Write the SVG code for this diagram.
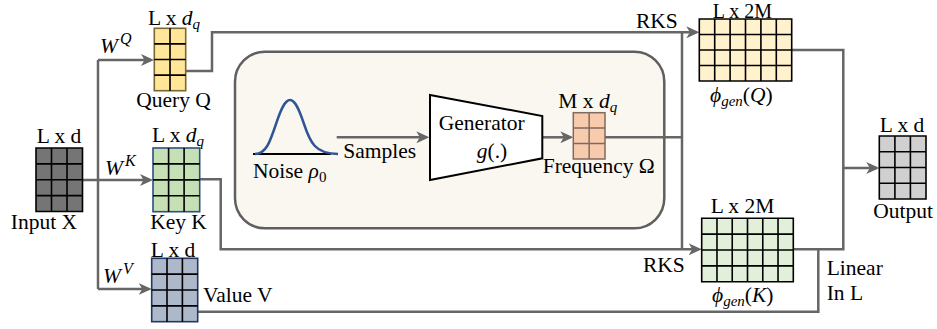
<svg xmlns="http://www.w3.org/2000/svg" width="937" height="329" viewBox="0 0 937 329">
<defs>
<marker id="ah" markerUnits="userSpaceOnUse" markerWidth="14" markerHeight="12" refX="10" refY="6" orient="auto">
<path d="M0,0 L13,6 L0,12 L3.5,6 Z" fill="#666"/>
</marker>
</defs>
<style>
text{font-family:"Liberation Serif","Times New Roman",serif;font-size:21.5px;fill:#000}
.m{text-anchor:middle}
.it{font-style:italic}
.sub{font-size:15px}
.sup{font-size:16px}
.grid{fill:none;stroke:#000;stroke-width:1.6}
.con{fill:none;stroke:#666;stroke-width:2.5}
.arr{marker-end:url(#ah)}
</style>
<rect width="937" height="329" fill="#fff"/>

<g id="box">
<rect x="235" y="51.7" width="429.3" height="176.6" rx="30" fill="#FAF6F0" stroke="#5f5f5f" stroke-width="2.5"/>
</g>

<g id="connectors">
<path class="con" d="M98,60 V289"/>
<path class="con arr" d="M98,60 H151"/>
<path class="con arr" d="M82,180 H150"/>
<path class="con arr" d="M98,289 H148.7"/>
<path class="con arr" d="M185.7,71 H212 V32.3 H696.3"/>
<path class="con" d="M605,137.3 H682"/>
<path class="con" d="M682,32.3 V249.3"/>
<path class="con arr" d="M199.7,179.3 H220.7 V249.3 H698.7"/>
<path class="con arr" d="M791.7,50 H843.3 V168 H876.3"/>
<path class="con" d="M793.3,249.3 H843.3 V168"/>
<path class="con" d="M197.7,311.7 H818.3 V249.3"/>
<path class="con arr" d="M336.7,137.3 H426.3"/>
<path class="con arr" d="M542.3,137.3 H570.3"/>
</g>

<g id="input">
<rect x="36" y="148" width="46.5" height="63.5" fill="#757575"/>
<path class="grid" d="M36,148 h46.5 v63.5 h-46.5 Z M51.5,148 V211.5 M67,148 V211.5 M36,163.9 H82.5 M36,179.75 H82.5 M36,195.6 H82.5"/>
<text x="59" y="143" class="m">L x d</text>
<text x="44" y="229" class="m">Input X</text>
</g>

<g id="query">
<rect x="154.3" y="28.3" width="31.4" height="62.4" fill="#FFE699" stroke="#7a6830" stroke-width="1.6"/>
<path class="grid" d="M170,28.3 V90.7 M154.3,43.9 H185.7 M154.3,59.5 H185.7 M154.3,75.1 H185.7"/>
<text x="148" y="25">L x <tspan class="it">d</tspan><tspan class="it sub" dy="4">q</tspan></text>
<text x="173.5" y="107" class="m">Query Q</text>
<text x="100" y="53" class="it">W<tspan class="sup" dx="2" dy="-9">Q</tspan></text>
</g>

<g id="key">
<rect x="153" y="148" width="46.7" height="63.7" fill="#C5E0B4" stroke="#2F4F7F" stroke-width="1.6"/>
<path class="grid" d="M168.6,148 V211.7 M184.1,148 V211.7 M153,163.9 H199.7 M153,179.85 H199.7 M153,195.8 H199.7"/>
<text x="152" y="142">L x <tspan class="it">d</tspan><tspan class="it sub" dy="4">q</tspan></text>
<text x="178.5" y="229" class="m">Key K</text>
<text x="105" y="175" class="it">W<tspan class="sup" dx="2" dy="-9">K</tspan></text>
</g>

<g id="value">
<rect x="151.7" y="258.3" width="46" height="63.4" fill="#ADB9CA" stroke="#1F3864" stroke-width="1.6"/>
<path class="grid" d="M167,258.3 V321.7 M182.4,258.3 V321.7 M151.7,274.15 H197.7 M151.7,290 H197.7 M151.7,305.85 H197.7"/>
<text x="173" y="256.7" class="m">L x d</text>
<text x="203" y="301.7">Value V</text>
<text x="103" y="283" class="it">W<tspan class="sup" dx="2" dy="-9">V</tspan></text>
</g>

<g id="noise">
<line x1="253" y1="154" x2="331" y2="154" stroke="#000" stroke-width="2"/>
<path d="M255,154 C266,154 270,142 276,124 C281,109 285,100 290,100 C295,100 299,109 304,124 C310,142 315,154 338,154" fill="none" stroke="#2F5597" stroke-width="2.5"/>
<text x="253" y="178.3">Noise <tspan class="it">ρ</tspan><tspan class="sub" dy="4">0</tspan></text>
<text x="343.3" y="158.3">Samples</text>
</g>

<g id="generator">
<polygon points="430,95 542.3,116 542.3,158.3 430,180" fill="#fff" stroke="#000" stroke-width="2"/>
<text x="481.7" y="130" class="m">Generator</text>
<text x="492" y="158" class="m"><tspan class="it">g</tspan>(.)</text>
</g>

<g id="frequency">
<rect x="573.3" y="112.7" width="31.7" height="46.3" fill="#F8CBAD" stroke="#7f6a5f" stroke-width="1.5"/>
<path fill="none" stroke="#7f6a5f" stroke-width="1.5" d="M589.15,112.7 V159 M573.3,128.1 H605 M573.3,143.6 H605"/>
<text x="558.3" y="108.3">M x <tspan class="it">d</tspan><tspan class="it sub" dy="4">q</tspan></text>
<text x="542.7" y="173.3">Frequency Ω</text>
</g>

<g id="phiQ">
<rect x="699.3" y="19" width="92.4" height="62" fill="#FFF2CC"/>
<path class="grid" d="M699.3,19 h92.4 v62 h-92.4 Z M714.7,19 V81 M730.1,19 V81 M745.5,19 V81 M760.9,19 V81 M776.3,19 V81 M699.3,34.5 H791.7 M699.3,50 H791.7 M699.3,65.5 H791.7"/>
<text x="742.5" y="17.5" class="m" style="font-size:20px">L x 2M</text>
<text x="636" y="28">RKS</text>
<text x="710" y="101.7"><tspan class="it">ϕ</tspan><tspan class="it sub" dy="4">gen</tspan><tspan dy="-4">(</tspan><tspan class="it">Q</tspan>)</text>
</g>

<g id="phiK">
<rect x="701.7" y="218.3" width="91.6" height="63.4" fill="#E2F0D9"/>
<path class="grid" d="M701.7,218.3 h91.6 v63.4 h-91.6 Z M716.97,218.3 V281.7 M732.23,218.3 V281.7 M747.5,218.3 V281.7 M762.77,218.3 V281.7 M778.03,218.3 V281.7 M701.7,234.15 H793.3 M701.7,250 H793.3 M701.7,265.85 H793.3"/>
<text x="742.5" y="213.3" class="m">L x 2M</text>
<text x="643" y="271.7">RKS</text>
<text x="712" y="301.7"><tspan class="it">ϕ</tspan><tspan class="it sub" dy="4">gen</tspan><tspan dy="-4">(</tspan><tspan class="it">K</tspan>)</text>
<text x="826.7" y="275">Linear</text>
<text x="826.7" y="300">In L</text>
</g>

<g id="output">
<rect x="879.3" y="136" width="46.7" height="63" fill="#D0D0D0"/>
<path class="grid" d="M879.3,136 h46.7 v63 h-46.7 Z M894.9,136 V199 M910.4,136 V199 M879.3,151.75 H926 M879.3,167.5 H926 M879.3,183.25 H926"/>
<text x="902" y="131.7" class="m">L x d</text>
<text x="903" y="218.3" class="m">Output</text>
</g>
</svg>
